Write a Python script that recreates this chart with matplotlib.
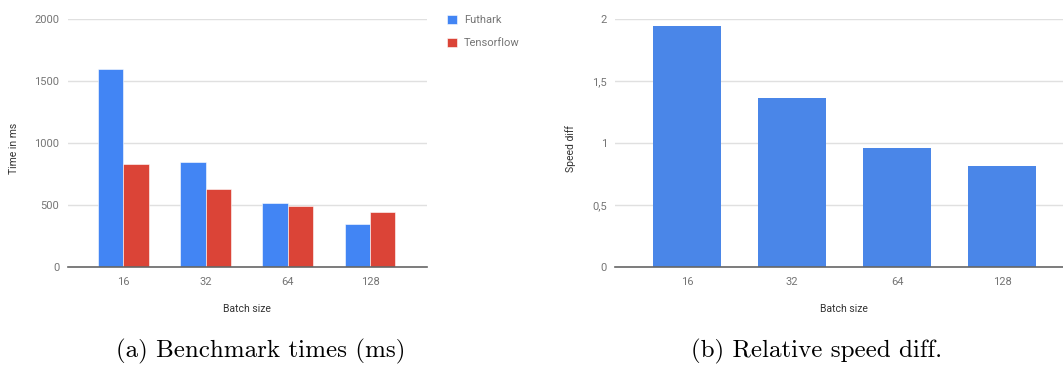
import matplotlib
matplotlib.use("Agg")
import matplotlib.pyplot as plt
import numpy as np

batch_sizes = ["16", "32", "64", "128"]
futhark_ms = [1600, 849, 513, 349]
tensorflow_ms = [828, 629, 489, 441]
speed_diff = [1.944, 1.36, 0.957, 0.812]
left_yticks = [0, 500, 1000, 1500, 2000]
right_yticks = [0, 0.5, 1, 1.5, 2]
right_yticklabels = ["0", "0,5", "1", "1,5", "2"]

W, H = 1063, 376
fig = plt.figure(figsize=(W / 100, H / 100), dpi=100)
plt.rcParams['font.family'] = ['Roboto', 'DejaVu Sans']

TICK_C = "#757575"
LABEL_C = "#333333"
GRID_C = "#e0e0e0"
BASE_C = "#666666"

def frame(x0, x1, y0, y1):
    return [x0 / W, 1 - y1 / H, (x1 - x0) / W, (y1 - y0) / H]

def style(ax):
    for s in ["top", "right", "left"]:
        ax.spines[s].set_visible(False)
    ax.spines["bottom"].set_color(BASE_C)
    ax.spines["bottom"].set_linewidth(1.2)
    ax.spines["bottom"].set_zorder(5)
    ax.tick_params(axis="both", length=0, labelsize=8, labelcolor=TICK_C)
    ax.tick_params(axis="x", pad=7)
    ax.tick_params(axis="y", pad=6)
    ax.yaxis.grid(True, color=GRID_C, linewidth=1)
    ax.set_axisbelow(True)

# Left chart
ax1 = fig.add_axes(frame(67.7, 426.7, 19, 267))
x = np.arange(len(batch_sizes))
w = 0.308
b1 = ax1.bar(x - w / 2, futhark_ms, w, color="#4285F4", edgecolor="white", linewidth=0.4, label="Futhark")
b2 = ax1.bar(x + w / 2, tensorflow_ms, w, color="#DB4437", edgecolor="white", linewidth=0.4, label="Tensorflow")
ax1.set_xlim(-0.676, 3.69)
ax1.set_ylim(0, 2000)
ax1.set_yticks(left_yticks)
ax1.set_yticklabels([str(v) for v in left_yticks])
ax1.set_xticks(x)
ax1.set_xticklabels(batch_sizes)
style(ax1)
ax1.set_xlabel("Batch size", fontsize=7.5, color=LABEL_C)
ax1.xaxis.set_label_coords(0.5, -(304 - 267) / 248)
ax1.set_ylabel("Time in ms", fontsize=7.5, color=LABEL_C)
ax1.yaxis.set_label_coords((19.5 - 67.7) / 359, 1 - (148.5 - 19) / 248)
leg = fig.legend(handles=[b1, b2], loc="upper left", bbox_to_anchor=(446.5 / W, 1 - 15 / H),
                 frameon=False, fontsize=8, handlelength=0.9, handleheight=0.9,
                 handletextpad=0.7, labelspacing=1.12, borderpad=0, borderaxespad=0)
for t in leg.get_texts():
    t.set_color(TICK_C)

# Right chart
ax2 = fig.add_axes(frame(615.3, 1063, 19, 267))
w2 = 0.646
ax2.bar(x, speed_diff, w2, color="#4A86E8")
ax2.set_xlim(-0.686, 3.582)
ax2.set_ylim(0, 2)
ax2.set_yticks(right_yticks)
ax2.set_yticklabels(right_yticklabels)
ax2.set_xticks(x)
ax2.set_xticklabels(batch_sizes)
style(ax2)
ax2.set_xlabel("Batch size", fontsize=7.5, color=LABEL_C)
ax2.xaxis.set_label_coords((844.3 - 615.3) / 447.7, -(304 - 267) / 248)
ax2.set_ylabel("Speed diff", fontsize=7.5, color=LABEL_C)
ax2.yaxis.set_label_coords((576 - 615.3) / 447.7, 1 - (149 - 19) / 248)

# Captions
fig.text(261 / W, 1 - 351 / H, "(a) Benchmark times (ms)", family="cmr10", fontsize=18,
         ha="center", va="center", color="black")
fig.text(817 / W, 1 - 351 / H, "(b) Relative speed diff.", family="cmr10", fontsize=18,
         ha="center", va="center", color="black")

fig.savefig("out.png", dpi=100, facecolor="white")
